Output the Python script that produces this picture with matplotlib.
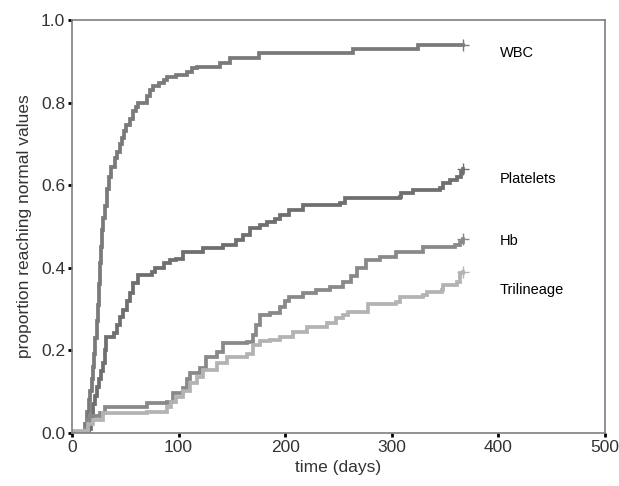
import matplotlib
matplotlib.use("Agg")
import matplotlib.pyplot as plt

plt.rcParams['font.family'] = ['Liberation Sans', 'DejaVu Sans']

# step knots: day of each jump and the proportion after it
wbc_days = [0, 12, 14, 16, 17, 19, 20, 21, 22, 23, 24, 25, 26, 27, 28, 29, 31, 33, 35, 37,
            40, 42, 45, 47, 49, 51, 54, 57, 60, 62, 70, 73, 76, 82, 86, 89, 98, 108, 113,
            117, 139, 148, 175, 264, 325, 367]
wbc_vals = [0.0, 0.02, 0.05, 0.08, 0.10, 0.13, 0.16, 0.19, 0.23, 0.27, 0.31, 0.36, 0.41,
            0.45, 0.49, 0.52, 0.55, 0.59, 0.62, 0.645, 0.665, 0.68, 0.70, 0.715, 0.73, 0.745,
            0.76, 0.78, 0.79, 0.80, 0.815, 0.83, 0.84, 0.847, 0.855, 0.862, 0.867, 0.875,
            0.883, 0.887, 0.895, 0.907, 0.919, 0.929, 0.939, 0.939]

plt_days = [0, 16, 18, 20, 22, 23, 25, 27, 29, 31, 32, 39, 42, 45, 48, 52, 54, 57, 62, 75,
            78, 86, 92, 98, 104, 123, 142, 154, 160, 167, 176, 183, 190, 195, 204, 217, 251,
            256, 308, 309, 320, 345, 348, 355, 361, 365, 367]
plt_vals = [0.0, 0.01, 0.04, 0.07, 0.09, 0.11, 0.13, 0.15, 0.17, 0.20, 0.233, 0.241, 0.26,
            0.281, 0.297, 0.32, 0.338, 0.362, 0.382, 0.39, 0.398, 0.41, 0.418, 0.422, 0.439,
            0.447, 0.455, 0.467, 0.48, 0.495, 0.503, 0.511, 0.519, 0.527, 0.54, 0.552, 0.556,
            0.568, 0.572, 0.58, 0.588, 0.592, 0.604, 0.612, 0.62, 0.632, 0.64]

hb_days = [0, 12, 15, 17, 26, 31, 70, 89, 95, 104, 108, 111, 120, 126, 136, 142, 164, 170,
           173, 176, 186, 195, 200, 204, 217, 229, 242, 254, 262, 267, 276, 289, 304, 329,
           359, 364, 367]
hb_vals = [0.0, 0.01, 0.03, 0.04, 0.047, 0.063, 0.071, 0.075, 0.095, 0.108, 0.13, 0.144,
           0.156, 0.184, 0.196, 0.217, 0.22, 0.237, 0.26, 0.285, 0.289, 0.305, 0.32, 0.33,
           0.338, 0.346, 0.354, 0.366, 0.38, 0.398, 0.418, 0.426, 0.439, 0.451, 0.455, 0.463,
           0.47]

tri_days = [0, 15, 20, 29, 70, 89, 93, 98, 104, 111, 117, 123, 136, 145, 164, 170, 176, 186,
            195, 207, 220, 239, 248, 254, 259, 278, 304, 308, 329, 333, 347, 348, 361, 364,
            367]
tri_vals = [0.004, 0.02, 0.031, 0.047, 0.051, 0.063, 0.075, 0.087, 0.10, 0.12, 0.136, 0.152,
            0.168, 0.184, 0.19, 0.212, 0.221, 0.225, 0.233, 0.245, 0.257, 0.265, 0.277, 0.285,
            0.293, 0.313, 0.317, 0.33, 0.334, 0.342, 0.346, 0.358, 0.366, 0.386, 0.39]

names = ["WBC", "Platelets", "Hb", "Trilineage"]
label_y = [0.92, 0.615, 0.464, 0.345]
colors = ["#7a7a7a", "#6f6f6f", "#898989", "#b3b3b3"]

fig = plt.figure(figsize=(6.19, 4.86), dpi=100)
ax = fig.add_axes([0.1163, 0.1097, 0.8611, 0.8491])

series = [(wbc_days, wbc_vals), (plt_days, plt_vals), (hb_days, hb_vals), (tri_days, tri_vals)]
for (d, v), c, name, ly in zip(series, colors, names, label_y):
    ax.step(d, v, where="post", color=c, linewidth=2.7, solid_joinstyle="miter")
    ax.plot(d[-1], v[-1], marker="+", color=c, markersize=8, markeredgewidth=1.0)
    ax.text(401, ly, name, fontsize=10.5, va="center", ha="left", color="black")

ax.set_xlim(0, 500)
ax.set_ylim(0, 1.0)
ax.set_xticks([0, 100, 200, 300, 400, 500])
ax.set_yticks([0.0, 0.2, 0.4, 0.6, 0.8, 1.0])
ax.set_yticklabels(["0.0", "0.2", "0.4", "0.6", "0.8", "1.0"])
ax.tick_params(direction="out", length=3, width=2, color="black", labelsize=12.5,
               labelcolor="#333333", pad=2)
for s in ax.spines.values():
    s.set_color("#7f7f7f")
    s.set_linewidth(1.2)

ax.set_xlabel("time (days)", fontsize=12.5, color="#333333", labelpad=4)
ax.set_ylabel("proportion reaching normal values", fontsize=12.5, color="#333333", labelpad=6)

fig.savefig("out.png", dpi=100)
